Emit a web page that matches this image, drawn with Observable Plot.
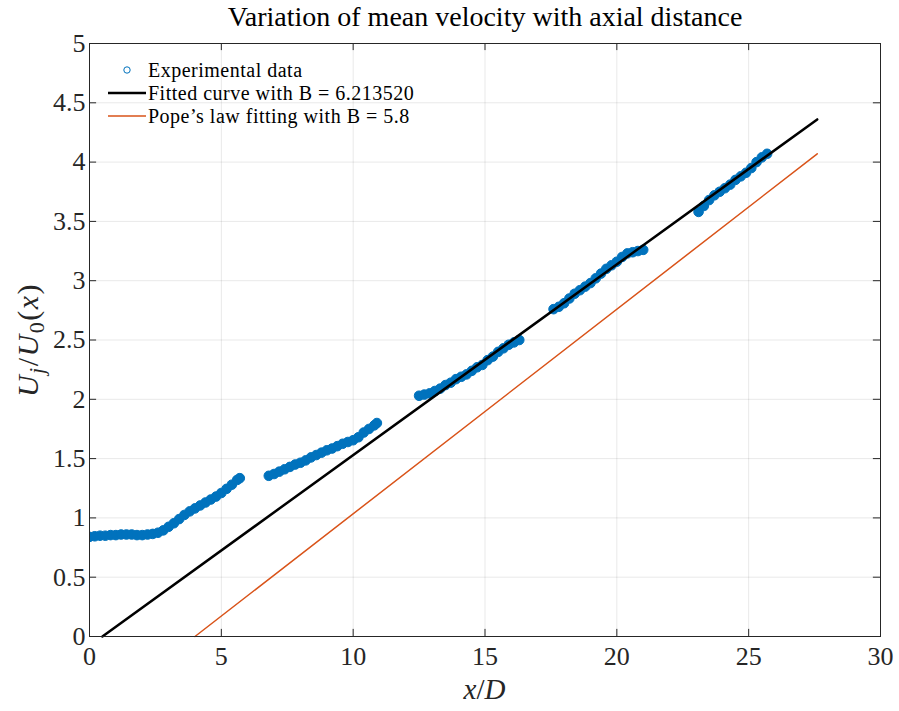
<!DOCTYPE html>
<html><head><meta charset="utf-8">
<script src="https://cdn.jsdelivr.net/npm/d3@7"></script>
<script src="https://cdn.jsdelivr.net/npm/@observablehq/plot@0.6"></script>
<style>body{margin:0;background:#fff} svg text, svg tspan{font-family:'Liberation Serif', serif;}</style>
</head><body><div id="chart"></div>
<script>
// Experimental data (x/D, Uj/U0)
const expX = [
  0.0,0.2,0.4,0.6,0.8,1.0,1.2,1.4,1.6,1.8,2.0,2.2,2.4,2.6,2.8,3.0,3.2,3.4,3.6,3.8,4.0,4.2,4.4,4.6,4.8,5.0,5.2,5.4,5.6,5.7,
  6.8,7.0,7.2,7.4,7.6,7.8,8.0,8.2,8.4,8.6,8.8,9.0,9.2,9.4,9.6,9.8,10.0,10.2,10.4,10.6,10.8,10.9,
  12.5,12.7,12.9,13.1,13.3,13.5,13.7,13.9,14.1,14.3,14.5,14.7,14.9,15.1,15.3,15.5,15.7,15.9,16.1,16.3,
  17.6,17.8,18.0,18.2,18.4,18.6,18.8,19.0,19.2,19.4,19.6,19.8,20.0,20.2,20.4,20.6,20.8,21.0,
  23.1,23.3,23.5,23.7,23.9,24.1,24.3,24.5,24.7,24.9,25.1,25.3,25.5,25.7
];
const expY = [
  0.84,0.845,0.85,0.85,0.855,0.855,0.86,0.86,0.86,0.855,0.855,0.86,0.865,0.875,0.895,0.925,0.955,0.99,1.025,1.055,1.08,1.105,1.13,1.155,1.18,1.21,1.245,1.28,1.32,1.335,
  1.355,1.37,1.39,1.41,1.43,1.45,1.465,1.485,1.51,1.53,1.55,1.57,1.585,1.605,1.625,1.64,1.655,1.68,1.72,1.75,1.78,1.80,
  2.03,2.04,2.05,2.07,2.09,2.12,2.14,2.17,2.19,2.21,2.24,2.27,2.29,2.33,2.36,2.40,2.43,2.46,2.48,2.50,
  2.76,2.78,2.81,2.85,2.89,2.92,2.95,2.98,3.02,3.06,3.10,3.13,3.16,3.20,3.23,3.24,3.25,3.26,
  3.58,3.63,3.68,3.72,3.75,3.78,3.81,3.85,3.88,3.91,3.95,4.00,4.04,4.07
];
// Fitted curve (B = 6.213520) end points
const fitX = [0.49, 27.6];
const fitY = [0, 4.36];
// Pope's law (B = 5.8) end points
const popeX = [4.0, 27.6];
const popeY = [0, 4.07];

const xTicks = [0, 5, 10, 15, 20, 25, 30];
const yTicks = [0, 0.5, 1, 1.5, 2, 2.5, 3, 3.5, 4, 4.5, 5];
const titleText = "Variation of mean velocity with axial distance";
const legendLabels = ["Experimental data", "Fitted curve with B = 6.213520", "Pope\u2019s law fitting with B = 5.8"];

const blue = "#0072BD", orange = "#D95319", axisCol = "#262626";
const exp = expX.map((x, i) => ({x, y: expY[i]}));
const fit = fitX.map((x, i) => ({x, y: fitY[i]}));
const pope = popeX.map((x, i) => ({x, y: popeY[i]}));
const font = "Liberation Serif";
const fmt = d => String(d);

const plot = Plot.plot({
  width: 899, height: 711,
  marginLeft: 89, marginRight: 19, marginTop: 43, marginBottom: 75,
  x: {domain: [0, 30]},
  y: {domain: [0, 5]},
  style: {fontFamily: font, background: "#fff", color: axisCol},
  marks: [
    Plot.gridX(xTicks, {stroke: "#000", strokeOpacity: 0.09}),
    Plot.gridY(yTicks, {stroke: "#000", strokeOpacity: 0.09}),
    Plot.dot(exp, {x: "x", y: "y", r: 4.8, fill: blue, stroke: blue, strokeWidth: 1, clip: true}),
    Plot.line(fit, {x: "x", y: "y", stroke: "#000", strokeWidth: 2.5}),
    Plot.line(pope, {x: "x", y: "y", stroke: orange, strokeWidth: 1.5}),
    Plot.frame({stroke: axisCol, strokeWidth: 1}),
    Plot.ruleX(xTicks, {y1: 0, y2: 0.06, stroke: axisCol}),
    Plot.ruleX(xTicks, {y1: 5, y2: 4.94, stroke: axisCol}),
    Plot.ruleY(yTicks, {x1: 0, x2: 0.27, stroke: axisCol}),
    Plot.ruleY(yTicks, {x1: 30, x2: 29.73, stroke: axisCol}),
    Plot.axisX(xTicks, {tickSize: 0, tickPadding: 10, fontSize: 26, fontFamily: font, label: null, fill: axisCol, tickFormat: fmt}),
    Plot.axisY(yTicks, {tickSize: 0, tickPadding: 4, fontSize: 26, fontFamily: font, label: null, fill: axisCol, tickFormat: fmt}),
    Plot.text([titleText], {frameAnchor: "top", lineAnchor: "middle", dy: -26, fontSize: 28, fontFamily: font, fill: "#000", letterSpacing: 1})
  ]
});
document.getElementById("chart").appendChild(plot);

const svg = d3.select(plot);
// x label
const xl = svg.append("text").attr("x", 484.5).attr("y", 699).attr("text-anchor", "middle")
  .attr("font-family", font).attr("font-size", 29).attr("fill", axisCol);
xl.append("tspan").attr("font-style", "italic").text("x");
xl.append("tspan").text("/");
xl.append("tspan").attr("font-style", "italic").text("D");
// y label
const yl = svg.append("text").attr("transform", "translate(38,340) rotate(-90)").attr("text-anchor", "middle")
  .attr("font-family", font).attr("font-size", 30).attr("fill", axisCol).attr("letter-spacing", 1.5);
yl.append("tspan").attr("font-style", "italic").text("U");
yl.append("tspan").attr("font-style", "italic").attr("font-size", 22).attr("dy", 6).text("j");
yl.append("tspan").attr("dy", -6).text("/");
yl.append("tspan").attr("font-style", "italic").text("U");
yl.append("tspan").attr("font-size", 22).attr("dy", 6).text("0");
yl.append("tspan").attr("dy", -6).text("(");
yl.append("tspan").attr("font-style", "italic").text("x");
yl.append("tspan").text(")");
// legend
const lg = svg.append("g").attr("font-family", font).attr("font-size", 20).attr("fill", "#000")
  .attr("text-anchor", "start").attr("letter-spacing", 0.5);
const rows = [70, 93, 116];
lg.append("circle").attr("cx", 127).attr("cy", rows[0]).attr("r", 3.2).attr("fill", "none").attr("stroke", blue).attr("stroke-width", 1);
lg.append("line").attr("x1", 108).attr("x2", 146).attr("y1", rows[1]).attr("y2", rows[1]).attr("stroke", "#000").attr("stroke-width", 2.5);
lg.append("line").attr("x1", 108).attr("x2", 146).attr("y1", rows[2]).attr("y2", rows[2]).attr("stroke", orange).attr("stroke-width", 1.5);
legendLabels.forEach((t, i) => lg.append("text").attr("x", 148).attr("y", rows[i]).attr("dy", "0.35em").text(t));
</script>
</body></html>
